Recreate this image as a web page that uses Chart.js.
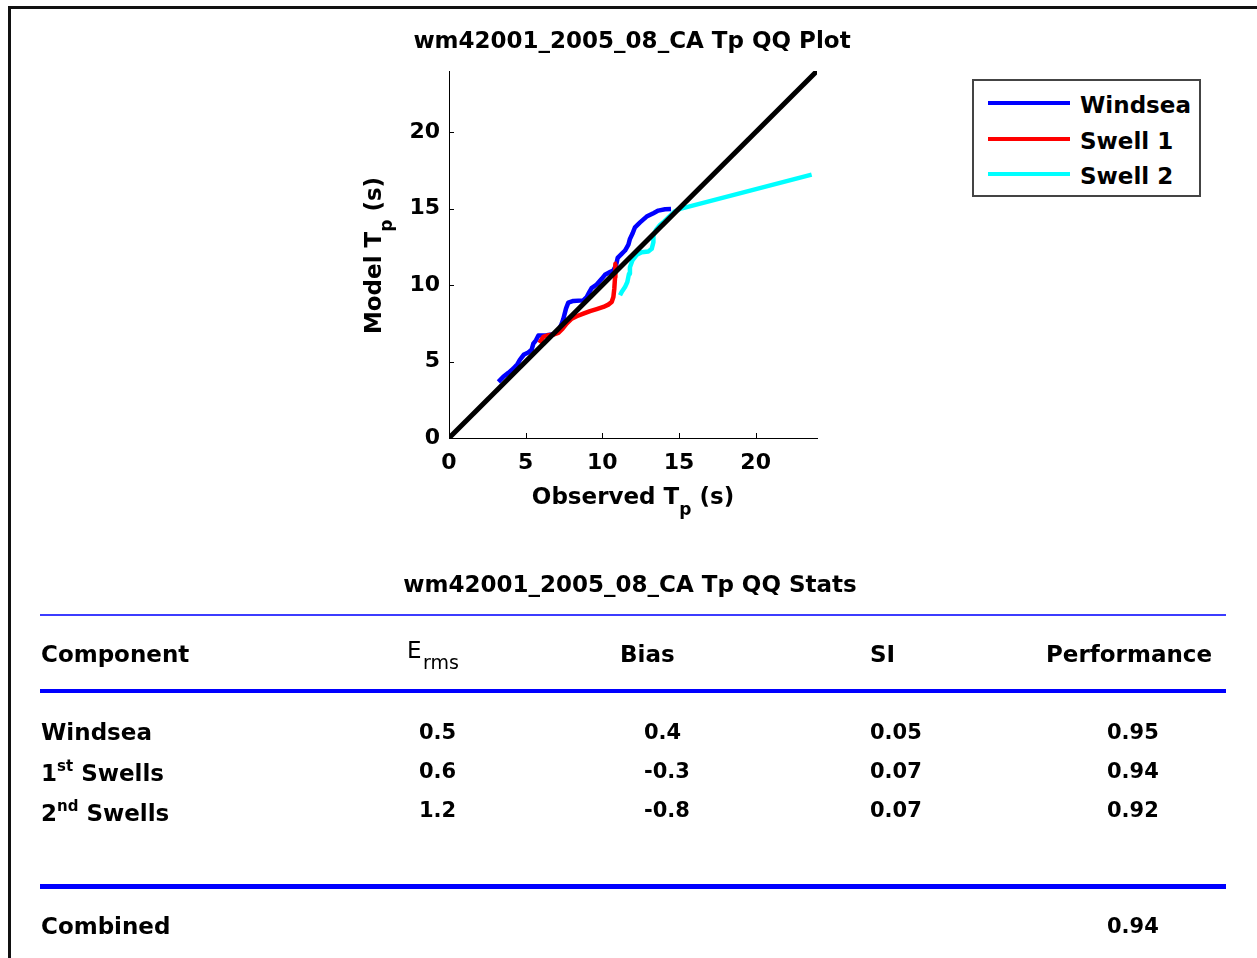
<!DOCTYPE html>
<html>
<head>
<meta charset="utf-8">
<title>wm42001_2005_08_CA Tp QQ Plot</title>
<script src="https://cdn.jsdelivr.net/npm/chart.js"></script>
<style>
  body { margin: 0; background: #fff; overflow: hidden; }
  #page { position: relative; width: 1257px; height: 958px; overflow: hidden;
          font-family: "DejaVu Sans", sans-serif; font-weight: bold; color: #000; }
  #qq { position: absolute; left: 0; top: 0; }
  #frame { position: absolute; left: 8px; top: 6px; width: 1300px; height: 1000px;
           border-top: 3px solid #111; border-left: 3px solid #111; }
  #legend { position: absolute; left: 972px; top: 79px; width: 229px; height: 118px;
            box-sizing: border-box; border: 2px solid #444; background: #fff; }
  .legLine { position: absolute; left: 14px; width: 82px; height: 4px; }
  .legText { position: absolute; left: 106px; font-size: 23px; line-height: 1;
             transform: translateY(-50%); white-space: nowrap; }
  .txt { position: absolute; line-height: 1; transform: translateY(-50%); white-space: nowrap; font-size: 23px; }
  .num { font-size: 21px; }
  .rule { position: absolute; left: 40px; width: 1186px; background: #0000ff; }
  sup { font-size: 15px; line-height: 0; vertical-align: 10px; }
</style>
</head>
<body>
<div id="page">
  <canvas id="qq" width="1257" height="958"></canvas>
  <div id="frame"></div>
  <div id="legend"></div>
</div>
<script>
// plot text
const plotTitle = "wm42001_2005_08_CA Tp QQ Plot";
const statsTitle = "wm42001_2005_08_CA Tp QQ Stats";
const xTitle = ["Observed T", "p", " (s)"];
const yTitle = ["Model T", "p", " (s)"];
const xTicks = [0, 5, 10, 15, 20];
const yTicks = [0, 5, 10, 15, 20];
const axisMin = 0;
const axisMax = 24;

// quantiles (observed Tp, model Tp)
const windseaObs = [3.22, 3.54, 3.87, 4.2, 4.46, 4.63, 4.89, 5.17, 5.39, 5.5, 5.67, 5.83, 6.37, 6.8, 7.13,
  7.35, 7.46, 7.63, 7.78, 8.11, 8.76, 8.98, 9.15, 9.3, 9.63, 9.96, 10.17, 10.5, 10.72, 10.89,
  11.0, 11.26, 11.48, 11.7, 11.8, 11.96, 12.13, 12.46, 12.89, 13.33, 13.65, 14.09, 14.48];
const windseaModel = [3.67, 4.0, 4.26, 4.54, 4.83, 5.13, 5.46, 5.59, 5.78, 6.17, 6.39, 6.7, 6.72, 6.78, 7.0,
  7.48, 7.8, 8.46, 8.85, 8.96, 9.0, 9.22, 9.54, 9.8, 10.04, 10.41, 10.67, 10.85, 10.96, 11.28,
  11.78, 12.04, 12.26, 12.65, 13.02, 13.35, 13.78, 14.1, 14.48, 14.7, 14.87, 14.96, 14.98];
const swell1Obs = [5.89, 6.15, 6.48, 6.8, 7.13, 7.41, 7.67, 8.0, 8.33, 8.76, 9.2, 9.63, 10.07, 10.39,
  10.61, 10.72, 10.78, 10.83, 10.83, 10.87, 10.95];
const swell1Model = [6.22, 6.61, 6.72, 6.76, 6.87, 7.15, 7.48, 7.8, 7.96, 8.13, 8.3, 8.43, 8.57, 8.72,
  8.89, 9.22, 9.76, 10.52, 11.17, 11.39, 11.4];
const swell2Obs = [11.15, 11.26, 11.48, 11.63, 11.74, 11.8, 11.96, 12.24, 12.57, 13.0, 13.22, 13.33,
  13.33, 13.5, 13.76, 14.02, 14.41, 14.74, 15.07, 23.65];
const swell2Model = [9.33, 9.54, 9.87, 10.2, 10.74, 11.17, 11.61, 11.98, 12.15, 12.2, 12.37, 12.8,
  13.24, 13.61, 13.93, 14.15, 14.52, 14.83, 14.98, 17.22];
const refObs = [0, 24];
const refModel = [0, 24];

const seriesNames = ["Windsea", "Swell 1", "Swell 2"];
const seriesColors = ["#0000ff", "#ff0000", "#00ffff"];

// stats table
const headerLabels = ["Component", "E", "Bias", "SI", "Performance"];
const ermsSub = "rms";
const componentLabels = ["Windsea", "1<sup>st</sup> Swells", "2<sup>nd</sup> Swells"];
const erms = [0.5, 0.6, 1.2];
const bias = [0.4, -0.3, -0.8];
const si = [0.05, 0.07, 0.07];
const performance = [0.95, 0.94, 0.92];
const combinedLabel = "Combined";
const combinedPerformance = 0.94;

function toPoints(xs, ys) {
  return xs.map((x, i) => ({ x: x, y: ys[i] }));
}

const bigFont = 'bold 23px "DejaVu Sans"';
const smallFont = 'bold 17px "DejaVu Sans"';

function drawSubText(ctx, parts, cx, baseline) {
  ctx.font = bigFont;
  const w1 = ctx.measureText(parts[0]).width;
  const w3 = ctx.measureText(parts[2]).width;
  ctx.font = smallFont;
  const w2 = ctx.measureText(parts[1]).width;
  let x = cx - (w1 + w2 + w3) / 2;
  ctx.textAlign = "left";
  ctx.textBaseline = "alphabetic";
  ctx.font = bigFont;
  ctx.fillText(parts[0], x, baseline);
  x += w1;
  ctx.font = smallFont;
  ctx.fillText(parts[1], x, baseline + 11);
  x += w2;
  ctx.font = bigFont;
  ctx.fillText(parts[2], x, baseline);
}

// title, axis titles and inward tick marks (matlab style)
const qqDecor = {
  id: "qqDecor",
  afterDraw(chart) {
    const ctx = chart.ctx;
    const a = chart.chartArea;
    const xs = chart.scales.x;
    const ys = chart.scales.y;
    ctx.save();
    ctx.strokeStyle = "#000";
    ctx.lineWidth = 1;
    ctx.beginPath();
    xTicks.forEach((v) => {
      const px = Math.round(xs.getPixelForValue(v)) + 0.5;
      ctx.moveTo(px, a.bottom);
      ctx.lineTo(px, a.bottom - 5);
    });
    yTicks.forEach((v) => {
      const py = Math.round(ys.getPixelForValue(v)) + 0.5;
      ctx.moveTo(a.left, py);
      ctx.lineTo(a.left + 5, py);
    });
    ctx.stroke();

    ctx.fillStyle = "#000";
    ctx.font = bigFont;
    ctx.textAlign = "center";
    ctx.textBaseline = "alphabetic";
    const cx = (a.left + a.right) / 2;
    ctx.fillText(plotTitle, cx - 1, 48);
    drawSubText(ctx, xTitle, cx, 504);

    ctx.translate(381, (a.top + a.bottom) / 2 + 1);
    ctx.rotate(-Math.PI / 2);
    drawSubText(ctx, yTitle, 0, 0);
    ctx.restore();
  },
};

const tickFont = { family: "DejaVu Sans", size: 22, weight: "bold" };

new Chart(document.getElementById("qq"), {
  type: "scatter",
  data: {
    datasets: [
      { label: "1:1", data: toPoints(refObs, refModel), borderColor: "#000", borderWidth: 5, order: 0 },
      { label: seriesNames[0], data: toPoints(windseaObs, windseaModel), borderColor: seriesColors[0], borderWidth: 4.5, order: 3 },
      { label: seriesNames[1], data: toPoints(swell1Obs, swell1Model), borderColor: seriesColors[1], borderWidth: 4.5, order: 2 },
      { label: seriesNames[2], data: toPoints(swell2Obs, swell2Model), borderColor: seriesColors[2], borderWidth: 4.5, order: 1 },
    ],
  },
  options: {
    responsive: false,
    animation: false,
    events: [],
    showLine: true,
    elements: {
      point: { radius: 0 },
      line: { tension: 0, borderJoinStyle: "round", fill: false },
    },
    layout: { padding: { top: 71, right: 440, bottom: 958 - 438 - 60, left: 0 } },
    plugins: { legend: { display: false }, title: { display: false }, tooltip: { enabled: false } },
    scales: {
      x: {
        type: "linear",
        position: "bottom",
        min: axisMin,
        max: axisMax,
        grid: { drawOnChartArea: false, drawTicks: false },
        border: { display: true, color: "#000", width: 1 },
        ticks: { color: "#000", font: tickFont, padding: 12, maxRotation: 0 },
        afterBuildTicks: (scale) => { scale.ticks = xTicks.map((v) => ({ value: v })); },
        afterFit: (scale) => { scale.height = 60; },
      },
      y: {
        type: "linear",
        position: "left",
        min: axisMin,
        max: axisMax,
        grid: { drawOnChartArea: false, drawTicks: false },
        border: { display: true, color: "#000", width: 1 },
        ticks: { color: "#000", font: tickFont, padding: 9 },
        afterBuildTicks: (scale) => { scale.ticks = yTicks.map((v) => ({ value: v })); },
        afterFit: (scale) => { scale.width = 449; },
      },
    },
  },
  plugins: [qqDecor],
});

// legend
const legend = document.getElementById("legend");
const legendY = [22, 58, 93];
seriesNames.forEach((name, i) => {
  const line = document.createElement("div");
  line.className = "legLine";
  line.style.top = legendY[i] - 2 + "px";
  line.style.background = seriesColors[i];
  legend.appendChild(line);
  const label = document.createElement("div");
  label.className = "legText";
  label.style.top = legendY[i] + 2 + "px";
  label.innerText = name;
  legend.appendChild(label);
});

// stats table
const page = document.getElementById("page");
function addText(html, left, top, cls) {
  const el = document.createElement("div");
  el.className = "txt " + (cls || "");
  el.style.left = left + "px";
  el.style.top = top + "px";
  el.innerHTML = html;
  page.appendChild(el);
  return el;
}
function addRule(top, height, color) {
  const el = document.createElement("div");
  el.className = "rule";
  el.style.top = top + "px";
  el.style.height = height + "px";
  if (color) el.style.background = color;
  page.appendChild(el);
}

const titleEl = addText(statsTitle, 630, 584);
titleEl.style.transform = "translate(-50%, -50%)";

addRule(614, 2, "#3c3cff");
addRule(689, 4);
addRule(884, 5);

const headLeft = [41, 407, 620, 870, 1046];
const headY = 654;
headerLabels.forEach((h, i) => {
  const el = addText(h, headLeft[i], i === 1 ? 649.5 : headY);
  if (i === 1) {
    el.style.fontWeight = "normal";
    el.style.fontSize = "23px";
  }
});
const sub = addText(ermsSub, 423, 661.5);
sub.style.fontWeight = "normal";
sub.style.fontSize = "19px";

const valueLeft = [419, 644, 870, 1107];
const valueY = [732, 771, 810];
const labelY = [732, 773, 813];
const columns = [erms, bias, si, performance];
componentLabels.forEach((c, r) => {
  addText(c, 41, labelY[r]);
  columns.forEach((col, k) => {
    addText(String(col[r]), valueLeft[k], valueY[r], "num");
  });
});
addText(combinedLabel, 41, 926);
addText(String(combinedPerformance), valueLeft[3], 926, "num");
</script>
</body>
</html>
